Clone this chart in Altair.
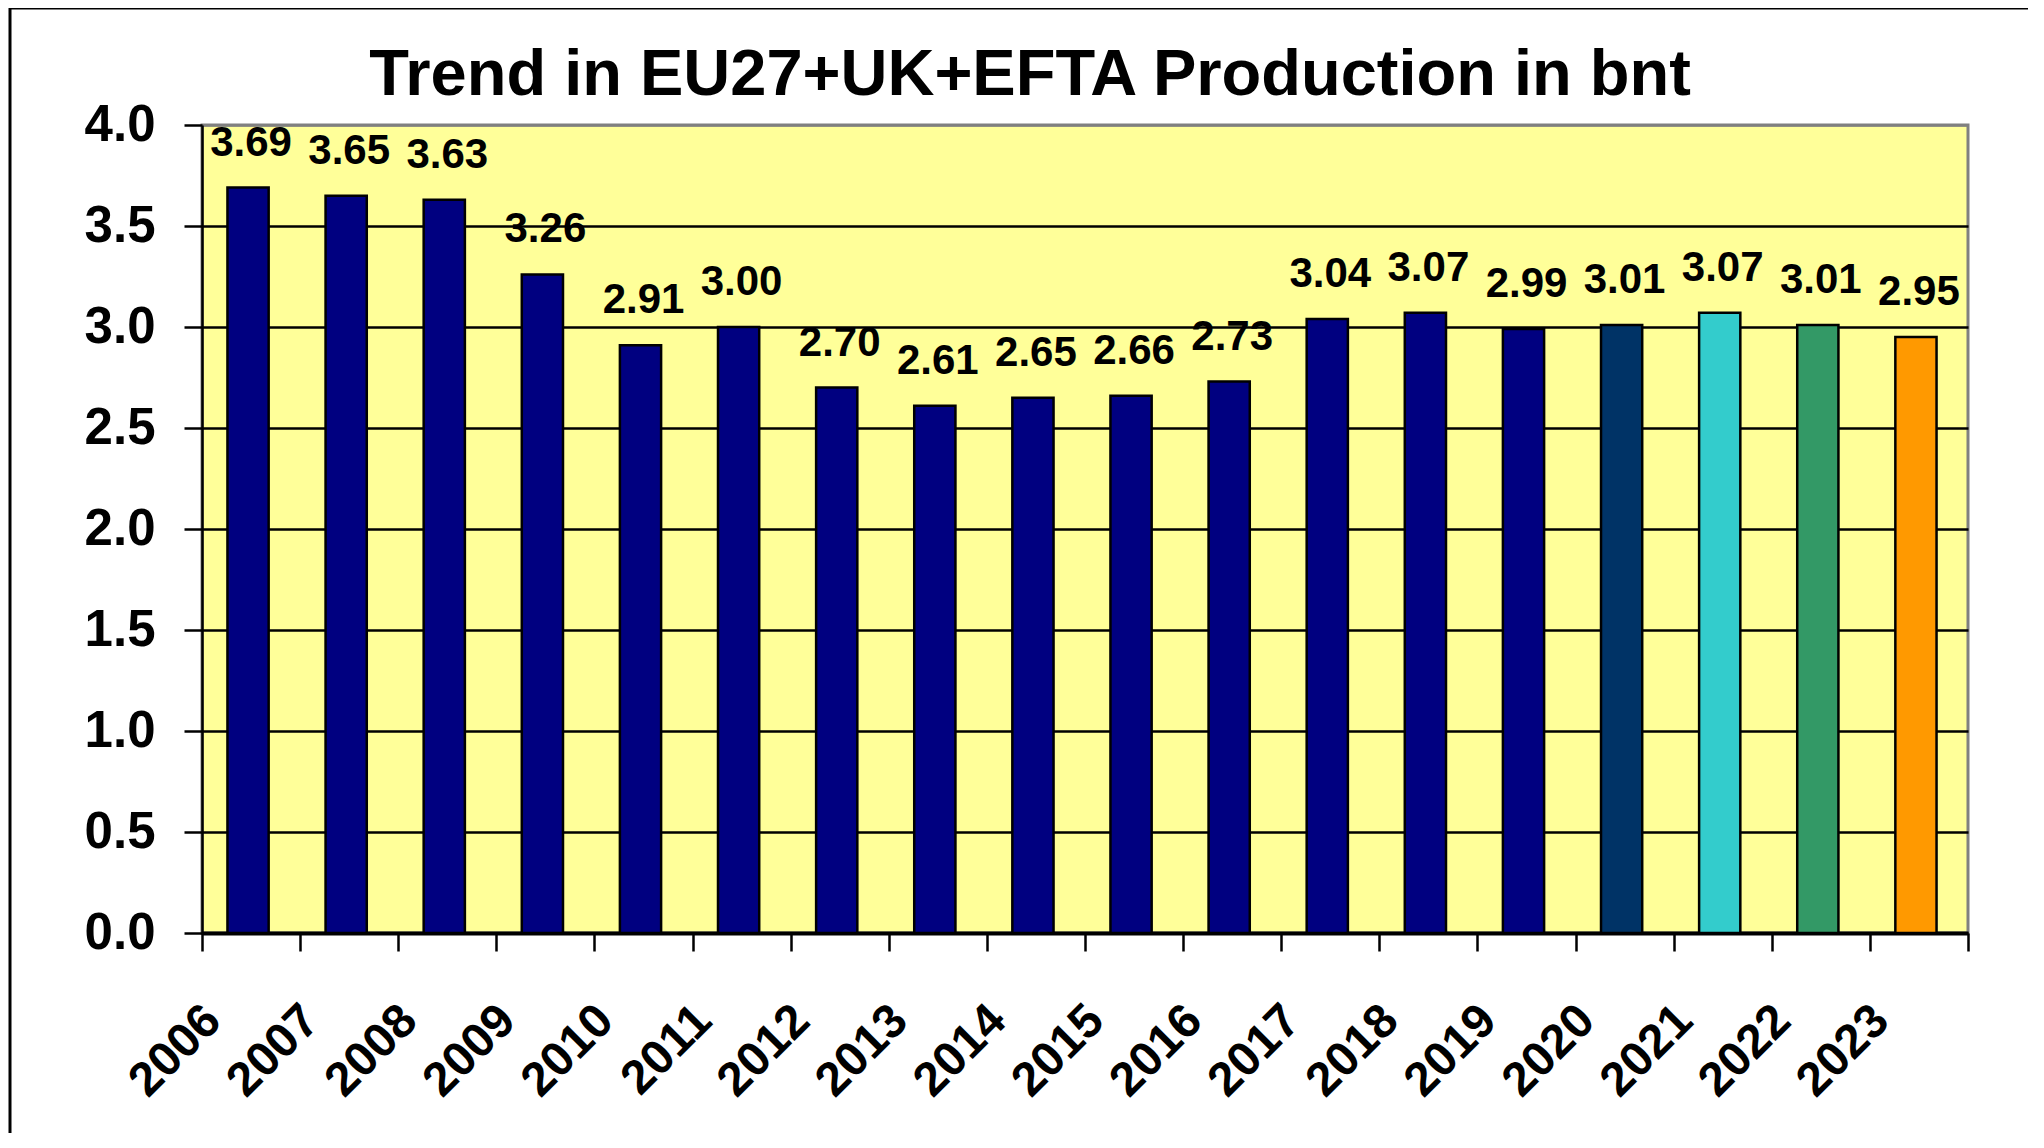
import altair as alt
import pandas as pd

FONT = "Liberation Sans"

years = ["2006", "2007", "2008", "2009", "2010", "2011", "2012", "2013", "2014",
         "2015", "2016", "2017", "2018", "2019", "2020", "2021", "2022", "2023"]
values = [3.69, 3.65, 3.63, 3.26, 2.91, 3.00, 2.70, 2.61, 2.65,
          2.66, 2.73, 3.04, 3.07, 2.99, 3.01, 3.07, 3.01, 2.95]
bar_colors = ["#000080", "#000080", "#000080", "#000080", "#000080", "#000080",
              "#000080", "#000080", "#000080", "#000080", "#000080", "#000080",
              "#000080", "#000080", "#003366", "#33CCCC", "#339966", "#FF9900"]
y_ticks = [0.0, 0.5, 1.0, 1.5, 2.0, 2.5, 3.0, 3.5, 4.0]
title_text = "Trend in EU27+UK+EFTA Production in bnt"

df = pd.DataFrame({"year": years, "value": values, "color": bar_colors})

x_enc = alt.X(
    "year:N",
    sort=years,
    scale=alt.Scale(paddingInner=0, paddingOuter=0),
    axis=alt.Axis(
        title=None,
        labelAngle=-45,
        labelAlign="right",
        labelBaseline="middle",
        labelOffset=-38,
        labelPadding=62,
        labelFont=FONT,
        labelFontSize=48,
        labelFontWeight="bold",
        labelColor="black",
        tickSize=18,
        tickWidth=2.5,
        tickColor="black",
        tickBand="extent",
        domainColor="black",
        domainWidth=4,
        grid=False,
    ),
)

y_enc = alt.Y(
    "value:Q",
    scale=alt.Scale(domain=[0, 4], nice=False, zero=True),
    axis=alt.Axis(
        title=None,
        values=y_ticks,
        format=".1f",
        labelFont=FONT,
        labelFontSize=51,
        labelFontWeight="bold",
        labelColor="black",
        labelPadding=29,
        tickSize=18,
        tickWidth=2.5,
        tickColor="black",
        domainColor="black",
        domainWidth=2.5,
        grid=True,
        gridColor=alt.condition("datum.value === 4", alt.value("#808080"), alt.value("black")),
        gridWidth=2.5,
    ),
)

bars = alt.Chart(df).mark_bar(
    width=alt.RelativeBandSize(0.42), stroke="black", strokeWidth=2.5, xOffset=-3
).encode(
    x=x_enc,
    y=y_enc,
    color=alt.Color("color:N", scale=None),
)

labels = alt.Chart(df).mark_text(
    dy=-45, baseline="middle", align="center",
    font=FONT, fontSize=42, fontWeight="bold", color="black",
).encode(
    x=alt.X("year:N", sort=years),
    y=alt.Y("value:Q"),
    text=alt.Text("value:Q", format=".2f"),
)

one_row = pd.DataFrame({"title": [title_text]})

title_mark = alt.Chart(one_row).mark_text(
    align="center", baseline="alphabetic",
    font=FONT, fontSize=65, fontWeight="bold", color="black",
).encode(
    x=alt.value(828), y=alt.value(-30), text="title:N"
)

frame_left = alt.Chart(one_row).mark_rule(color="black", strokeWidth=3).encode(
    x=alt.value(-192), y=alt.value(-118), y2=alt.value(1100)
)
frame_top = alt.Chart(one_row).mark_rule(color="black", strokeWidth=3).encode(
    x=alt.value(-193), x2=alt.value(1900), y=alt.value(-117)
)

chart = alt.layer(bars, labels, title_mark, frame_left, frame_top).properties(
    width=1766,
    height=808,
    background="white",
    autosize=alt.AutoSizeParams(type="none"),
    padding={"left": 194, "top": 117, "right": 60, "bottom": 200},
).configure_view(
    fill="#FFFF99", stroke="#808080", strokeWidth=3
)

chart.save("out.html", embed_options={"renderer": "svg", "actions": False})
